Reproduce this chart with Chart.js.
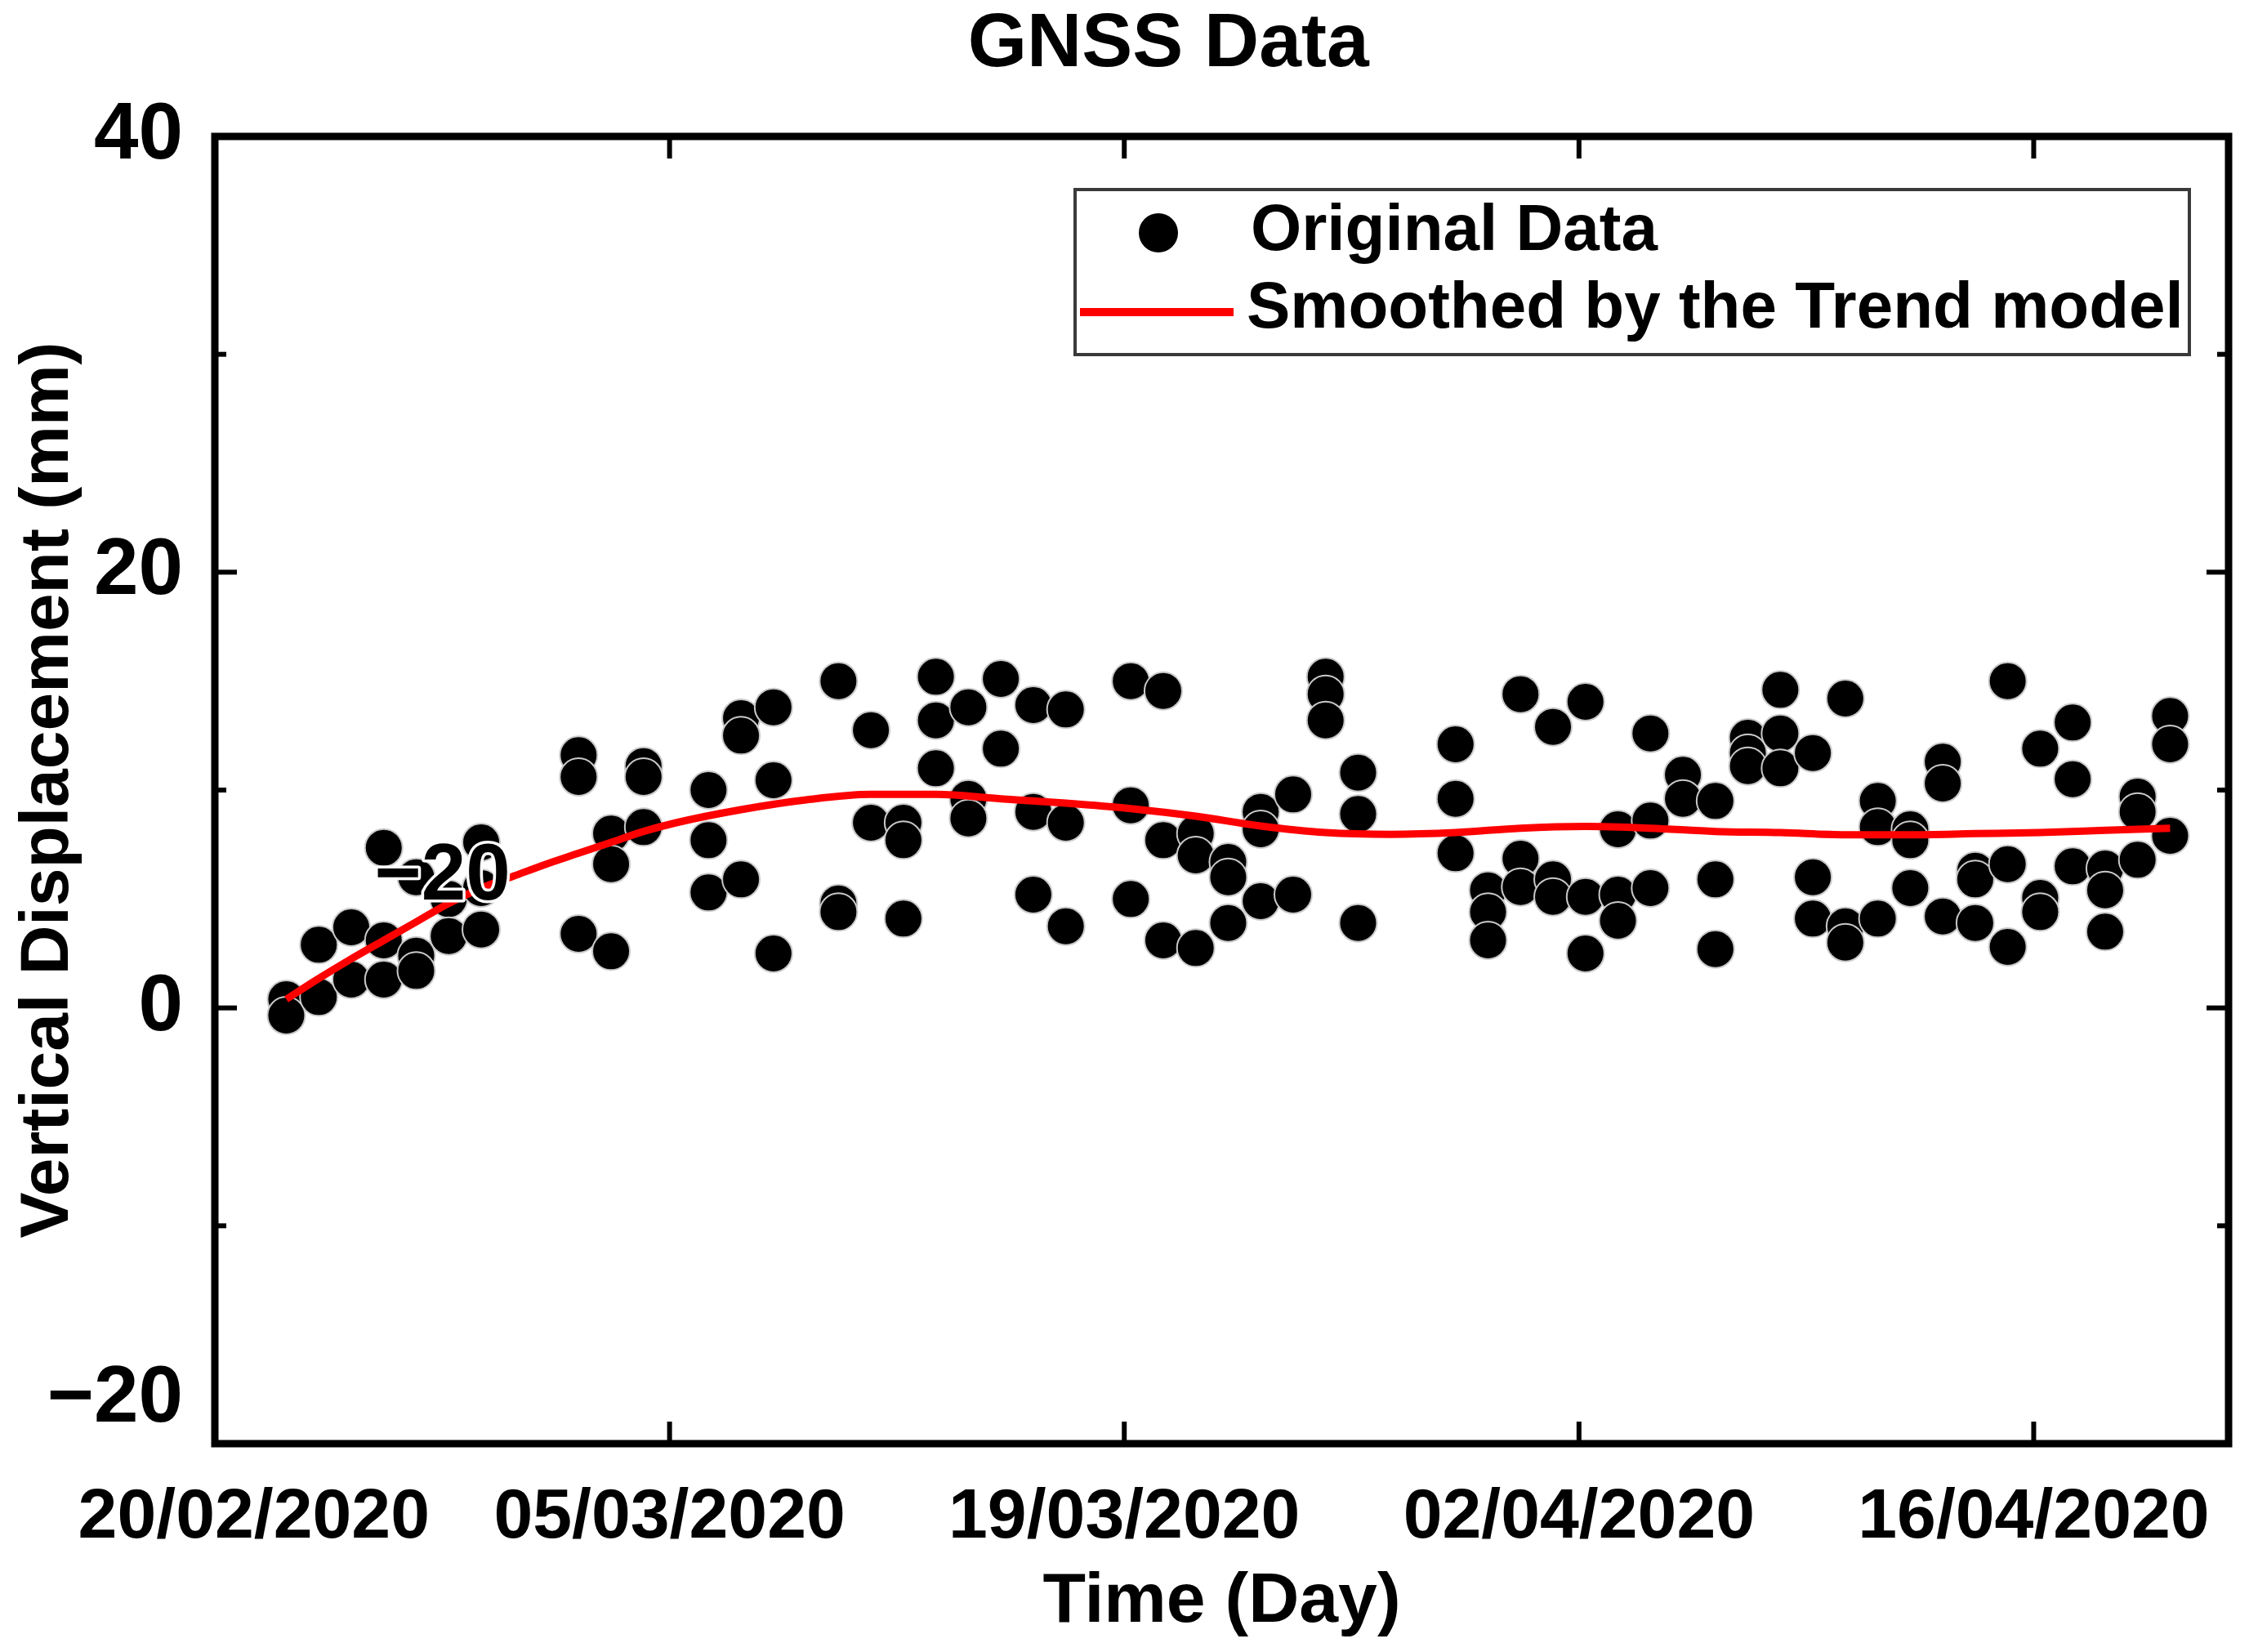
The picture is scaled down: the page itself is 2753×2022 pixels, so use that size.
<!DOCTYPE html>
<html>
<head>
<meta charset="utf-8">
<script src="https://cdn.jsdelivr.net/npm/chart.js@4.4.1/dist/chart.umd.min.js"></script>
<style>
  html, body { margin: 0; padding: 0; background: #ffffff; }
  #wrap { width: 2753px; height: 2022px; }
</style>
</head>
<body>
<div id="wrap"><canvas id="c" width="2753" height="2022"></canvas></div>
<script>
// ---------------- data ----------------
const chartTitle = 'GNSS Data';
const xAxisTitle = 'Time (Day)';
const yAxisTitle = 'Vertical Displacement (mm)';
const seriesNames = ['Original Data', 'Smoothed by the Trend model'];

// x ticks: days counted from 20/02/2020
const xTickDays = [0, 14, 28, 42, 56];
const xTickLabels = ['20/02/2020', '05/03/2020', '19/03/2020', '02/04/2020', '16/04/2020'];
const yTickValues = [-20, 0, 20, 40];
const yTickLabels = ['\u221220', '0', '20', '40'];
const strayLabel = { text: '\u221220', day: 9.1, value: 6.0 };

// observation time within the day (fraction of a day)
const obsOffset = 0.2;

// observation days (days after 20/02/2020) and the values observed that day (mm)
const obsDays = [2, 3, 4, 5, 6, 7, 8, 11, 12, 13, 15, 16, 17, 19, 20, 21, 22, 23, 24, 25, 26,
  28, 29, 30, 31, 32, 33, 34, 35, 38, 39, 40, 41, 42, 43, 44, 45, 46, 47, 48, 49, 50,
  51, 52, 53, 54, 55, 56, 57, 58, 59, 60];
const obsValues = [
  [0.4, -0.35], [2.9, 0.5], [3.7, 1.3], [7.35, 3.1, 1.3], [6.0, 2.4, 1.7], [5.0, 3.3],
  [7.6, 5.5, 3.6], [11.6, 10.6, 3.4], [8.0, 6.6, 2.6], [11.1, 10.6, 8.3], [10.0, 7.7, 5.3],
  [13.3, 12.5, 5.9], [13.8, 10.45, 2.5], [15.0, 4.8, 4.4], [12.75, 8.5], [8.5, 7.7, 4.1],
  [15.2, 13.2, 11.0], [13.8, 9.6, 8.7], [15.1, 11.9], [13.9, 9.0, 5.2], [13.7, 8.5, 3.75],
  [15.0, 9.3, 5.0], [14.55, 7.7, 3.1], [8.0, 7.0, 2.75], [6.7, 6.0, 3.9], [9.0, 8.2, 4.9],
  [9.8, 5.2], [15.2, 14.4, 13.2], [10.8, 8.9, 3.9], [12.1, 9.6, 7.1], [5.4, 4.4, 3.1],
  [14.4, 6.85, 5.55], [12.9, 5.9, 5.1], [14.05, 5.1, 2.5], [8.2, 5.2, 4.0], [12.6, 8.6, 5.5],
  [10.7, 9.6], [9.5, 5.9, 2.7], [12.4, 11.7, 11.1], [14.6, 12.6, 11.0], [11.7, 6.0, 4.1],
  [14.2, 3.75, 3.0], [9.5, 8.3, 4.1], [8.2, 7.7, 5.5], [11.3, 10.3, 4.2], [6.3, 5.9, 3.9],
  [15.0, 6.6, 2.8], [11.9, 5.05, 4.4], [13.1, 10.5, 6.5], [6.4, 5.4, 3.5], [9.7, 9.0, 6.8],
  [13.4, 12.1, 7.9]
];

// trend model curve
const trendDays = [2, 3, 4, 5, 6, 7, 8, 9, 10, 11, 12, 13, 14, 16, 18, 20, 22, 24, 26, 28, 30,
  32, 34, 36, 38, 40, 42, 44, 46, 48, 50, 52, 54, 56, 58, 60];
const trendValues = [0.4, 1.35, 2.25, 3.1, 3.95, 4.8, 5.5, 6.05, 6.6, 7.1, 7.6, 8.1, 8.5, 9.1,
  9.55, 9.8, 9.8, 9.6, 9.4, 9.15, 8.8, 8.35, 8.05, 7.97, 8.05, 8.25, 8.33, 8.25, 8.1, 8.05,
  7.95, 7.95, 8.0, 8.05, 8.15, 8.25];

// ---------------- build ----------------
const FONT = '"Liberation Sans", Arial, Helvetica, sans-serif';
Chart.defaults.font.family = FONT;
Chart.defaults.color = '#000';

const scatterData = obsDays.flatMap((d, i) => obsValues[i].map(v => ({ x: d + obsOffset, y: v })));
const trendData = trendDays.map((d, i) => ({ x: d + obsOffset, y: trendValues[i] }));

function line(ctx, x1, y1, x2, y2) {
  ctx.beginPath(); ctx.moveTo(x1, y1); ctx.lineTo(x2, y2); ctx.stroke();
}

const decorPlugin = {
  id: 'decor',
  afterDatasetsDraw(chart) {
    const { ctx, scales: { x, y } } = chart;
    ctx.save();
    ctx.font = 'bold 98px ' + FONT;
    ctx.textAlign = 'right';
    ctx.textBaseline = 'middle';
    const px = x.getPixelForValue(strayLabel.day), py = y.getPixelForValue(strayLabel.value);
    ctx.lineJoin = 'round';
    ctx.strokeStyle = '#fff'; ctx.lineWidth = 7;
    ctx.strokeText(strayLabel.text, px, py);
    ctx.fillStyle = '#000';
    ctx.fillText(strayLabel.text, px, py);
    ctx.restore();
  },
  afterDraw(chart) {
    const { ctx, chartArea: { left, right, top, bottom }, scales: { x, y } } = chart;
    ctx.save();
    ctx.strokeStyle = '#000';
    ctx.lineCap = 'butt';
    // ticks (inward)
    ctx.lineWidth = 6;
    xTickDays.forEach(d => {
      const p = x.getPixelForValue(d);
      if (p <= left + 6 || p >= right - 6) return;
      line(ctx, p, bottom, p, bottom - 27);
      line(ctx, p, top, p, top + 27);
    });
    for (let v = y.min; v <= y.max; v += 10) {
      const p = y.getPixelForValue(v);
      if (p <= top + 6 || p >= bottom - 6) continue;
      const len = (v % 20 === 0) ? 27 : 14;
      line(ctx, left, p, left + len, p);
      line(ctx, right, p, right - len, p);
    }
    // frame
    ctx.lineWidth = 9;
    ctx.strokeRect(left, top, right - left, bottom - top);

    // title
    ctx.fillStyle = '#000';
    ctx.font = 'bold 93px ' + FONT;
    ctx.textAlign = 'center';
    ctx.textBaseline = 'middle';
    ctx.fillText(chartTitle, left + (right - left) * 0.4735, 55);

    // legend
    const bx = right - 1412, byy = top + 65, bw = 1364, bh = 202;
    ctx.fillStyle = '#fff';
    ctx.fillRect(bx, byy, bw, bh);
    ctx.strokeStyle = '#3a3a3a';
    ctx.lineWidth = 4;
    ctx.strokeRect(bx, byy, bw, bh);
    const sc = chart.data.datasets[1], tr = chart.data.datasets[0];
    ctx.fillStyle = sc.backgroundColor;
    ctx.beginPath(); ctx.arc(bx + 102, byy + 53, 24, 0, Math.PI * 2); ctx.fill();
    ctx.strokeStyle = tr.borderColor; ctx.lineWidth = 10;
    line(ctx, bx + 6, byy + 150, bx + 194, byy + 150);
    ctx.fillStyle = '#000';
    ctx.font = 'bold 80px ' + FONT;
    ctx.textAlign = 'left';
    ctx.textBaseline = 'middle';
    ctx.fillText(sc.label, bx + 215, byy + 52);
    ctx.fillText(tr.label, bx + 210, byy + 147);
    ctx.restore();
  }
};

new Chart(document.getElementById('c'), {
  type: 'scatter',
  data: {
    datasets: [
      {
        type: 'line',
        label: seriesNames[1],
        data: trendData,
        borderColor: '#ff0000',
        borderWidth: 9,
        pointRadius: 0,
        fill: false,
        tension: 0.4,
        cubicInterpolationMode: 'monotone',
        order: 0
      },
      {
        label: seriesNames[0],
        data: scatterData,
        backgroundColor: '#000000',
        borderColor: '#c9c9c9',
        borderWidth: 2,
        pointRadius: 23,
        pointHoverRadius: 23,
        order: 1
      }
    ]
  },
  options: {
    responsive: false,
    animation: false,
    devicePixelRatio: 1,
    layout: { padding: { top: 167, right: 24, left: 0, bottom: 0 } },
    plugins: { legend: { display: false }, title: { display: false }, tooltip: { enabled: false } },
    events: [],
    scales: {
      x: {
        type: 'linear',
        position: 'bottom',
        min: 0,
        max: 62,
        afterBuildTicks: s => { s.ticks = xTickDays.map(v => ({ value: v })); },
        afterFit: s => { s.height = 255; s.paddingLeft = 0; s.paddingRight = 0; },
        grid: { display: false, drawTicks: false },
        border: { display: false },
        ticks: {
          autoSkip: false,
          maxRotation: 0,
          minRotation: 0,
          padding: 40,
          color: '#000',
          font: { size: 86, weight: 'bold' },
          callback: (v) => {
            const i = xTickDays.indexOf(v);
            return i === 0 ? '    ' + xTickLabels[i] : xTickLabels[i];
          }
        },
        title: { display: true, text: xAxisTitle, color: '#000', font: { size: 86, weight: 'bold' }, padding: { top: 0, bottom: 9 } }
      },
      y: {
        type: 'linear',
        position: 'left',
        min: -20,
        max: 40,
        afterBuildTicks: s => { s.ticks = yTickValues.map(v => ({ value: v })); },
        afterFit: s => { s.width = 263; s.paddingTop = 0; s.paddingBottom = 0; },
        grid: { display: false, drawTicks: false },
        border: { display: false },
        ticks: {
          padding: 39,
          color: '#000',
          font: { size: 98, weight: 'bold', lineHeight: 1.1 },
          callback: (v) => {
            const i = yTickValues.indexOf(v);
            return i === 0 ? [yTickLabels[i], ''] : yTickLabels[i];
          }
        },
        title: { display: true, text: yAxisTitle, color: '#000', font: { size: 84, weight: 'bold' }, padding: { top: 9, bottom: 0 } }
      }
    }
  },
  plugins: [decorPlugin]
});
</script>
</body>
</html>
